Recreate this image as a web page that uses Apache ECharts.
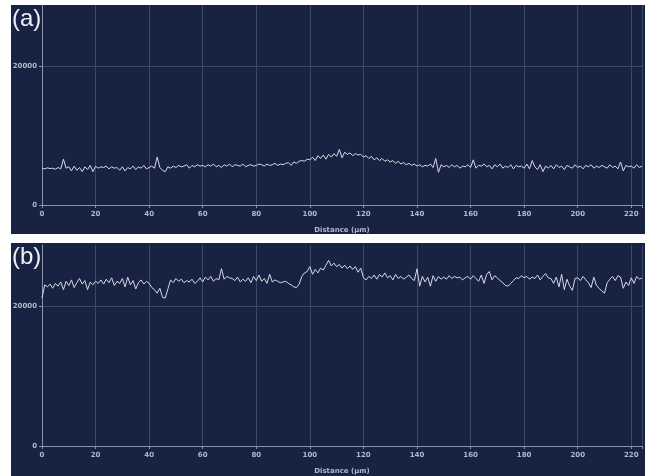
<!DOCTYPE html>
<html><head><meta charset="utf-8">
<script src="https://cdn.jsdelivr.net/npm/echarts@6/dist/echarts.min.js"></script>
<style>html,body{margin:0;padding:0;background:#fff}#c{width:645px;height:476px}</style>
</head><body><div id="c"></div>
<script>
const xTicks = [0,20,40,60,80,100,120,140,160,180,200,220];
const yTicks = [0,20000];
const panelLabels = ['(a)','(b)'];
const xTitle = 'Distance (µm)';
const profileA = [
5300,5200,5350,5250,5300,5150,5400,5200,6600,5300,
5500,4900,5600,5000,5400,4800,5500,5100,5700,4800,
5600,5300,5500,5400,5600,5200,5500,5300,5400,5000,
5500,4900,5400,5200,5600,5100,5500,5300,5700,5200,
5400,5600,5300,6900,5400,5000,4800,5500,5300,5600,
5400,5700,5500,5600,5800,5300,5700,5500,5800,5600,
5700,5500,5800,5600,5900,5500,5700,5400,5800,5600,
5900,5500,5800,5700,5600,5900,5500,5700,5800,5600,
5700,5900,5800,5600,5900,5700,5800,6000,5700,5900,
5800,6000,6100,5700,6200,6000,6300,6400,6300,6600,
6500,6900,6400,7100,6700,7200,6600,7300,6900,7400,
7000,8000,6800,7600,7300,7500,7100,7400,7200,7300,
6900,7100,6700,7000,6500,6800,6400,6700,6300,6500,
6200,6400,6000,6300,5900,6100,5800,6000,5700,5900,
5600,5800,5500,5700,5600,5900,5400,6700,4700,5800,
5500,5700,5400,5800,5500,5700,5300,5600,5500,5800,
5400,6500,5300,5700,5600,5900,5500,5700,5200,5800,
5500,5900,5300,5600,5400,5800,5200,5700,5500,5600,
5300,5900,5200,6400,5500,5100,5800,4800,5600,5300,
5700,5200,5800,5400,5600,5100,5700,5500,5300,5800,
5400,5600,5200,5700,5500,5800,5300,5600,5400,5700,
5500,5300,5800,5400,5600,5200,6200,4900,5700,5500,
5600,5300,5800,5400,5600];
const profileB = [
21200,23100,22800,23200,22600,23300,22900,23500,22400,23600,
23000,23800,22700,23400,24000,23200,23700,22400,23500,23100,
23600,23300,23800,23200,23900,23400,24100,23000,23600,23300,
24000,22800,24200,23100,23700,22500,23400,23800,23200,23600,
23300,22700,22400,21900,22600,21300,21200,22500,23800,23400,
24000,23600,23900,23400,23700,23500,23900,23300,23600,24100,
23500,24200,23800,24300,23600,24000,23800,25400,23900,24300,
24100,24000,23700,24200,23500,23900,23600,24100,23400,24300,
23700,24500,23600,24000,23300,24600,23500,23800,23600,23400,
23500,23600,23300,23100,22800,22700,23200,24300,24800,25000,
25700,24600,25300,24800,25500,25200,25900,26600,25800,26200,
25700,26000,25500,25900,25400,25800,25300,25700,24900,25500,
24100,23800,24300,24000,24500,23900,24600,24200,24800,24100,
24400,23800,24600,24000,24300,23900,24200,24500,24000,23700,
25400,22900,24300,23500,24200,22900,24400,23600,24300,23900,
24200,23900,24400,24000,24300,24100,24200,23800,24100,24300,
23900,24400,24000,23600,24500,23300,24600,25000,23800,24400,
24100,23700,23400,23000,22900,23300,23700,24100,24000,24400,
24100,24300,23900,24200,24000,24500,23800,24300,24700,24100,
24000,23300,24200,22800,24600,22400,23900,22900,22300,24000,
24100,23700,24300,23800,23400,22700,24200,23000,22600,22200,
21900,23400,23900,24300,23700,24400,24200,22600,23500,23000,
24100,23300,24300,23900,24100];

const BG = '#182343', GRID = '#3a4868', AXIS = '#8a93a9', TXT = '#b0b8ca', LINE = '#d6dae4';
const chart = echarts.init(document.getElementById('c'), null, {renderer:'canvas'});
function xAxisDef(gi){
  return {gridIndex:gi, type:'value', min:0, max:224, interval:20,
    name:xTitle, nameLocation:'middle', nameGap:22,
    nameTextStyle:{color:TXT, fontSize:7, fontFamily:'DejaVu Sans', fontWeight:'bold'},
    axisLine:{show:true, lineStyle:{color:AXIS, width:1}},
    axisTick:{show:true, length:3, lineStyle:{color:AXIS}},
    axisLabel:{color:TXT, fontSize:7, fontWeight:'bold', fontFamily:'DejaVu Sans', margin:6,
      formatter:v=> xTicks.includes(v) ? String(v) : ''},
    splitLine:{show:true, lineStyle:{color:GRID, width:1}}};
}
function yAxisDef(gi){
  return {gridIndex:gi, type:'value', min:0, max:28800, interval:20000,
    axisLine:{show:true, lineStyle:{color:AXIS, width:1}},
    axisTick:{show:true, length:3, lineStyle:{color:AXIS}},
    axisLabel:{color:TXT, fontSize:7, fontWeight:'bold', fontFamily:'DejaVu Sans', margin:5,
      showMaxLabel:false, formatter:v=> yTicks.includes(v) ? String(v) : ''},
    splitLine:{show:true, showMaxLine:false, lineStyle:{color:GRID, width:1}}};
}
const xs = profileA.map((_,i)=>i);
chart.setOption({
  backgroundColor:'#ffffff',
  animation:false,
  graphic:[
    {type:'rect', z:-10, shape:{x:11,y:5,width:634,height:229}, style:{fill:BG}},
    {type:'rect', z:-10, shape:{x:11,y:243,width:634,height:233}, style:{fill:BG}},
    {type:'text', z:10, left:12, top:7, style:{text:panelLabels[0], fill:'#eef0f5', font:'24px "Liberation Sans", Arial, sans-serif'}},
    {type:'text', z:10, left:12, top:245, style:{text:panelLabels[1], fill:'#eef0f5', font:'24px "Liberation Sans", Arial, sans-serif'}}
  ],
  grid:[
    {left:42, width:600, top:5, height:200},
    {left:42, width:600, top:245, height:201}
  ],
  xAxis:[xAxisDef(0), xAxisDef(1)],
  yAxis:[yAxisDef(0), yAxisDef(1)],
  series:[
    {type:'line', xAxisIndex:0, yAxisIndex:0, data:xs.map(i=>[i,profileA[i]]), showSymbol:false, lineStyle:{color:LINE, width:1}},
    {type:'line', xAxisIndex:1, yAxisIndex:1, data:xs.map(i=>[i,profileB[i]]), showSymbol:false, lineStyle:{color:LINE, width:1}}
  ]
});
</script></body></html>
